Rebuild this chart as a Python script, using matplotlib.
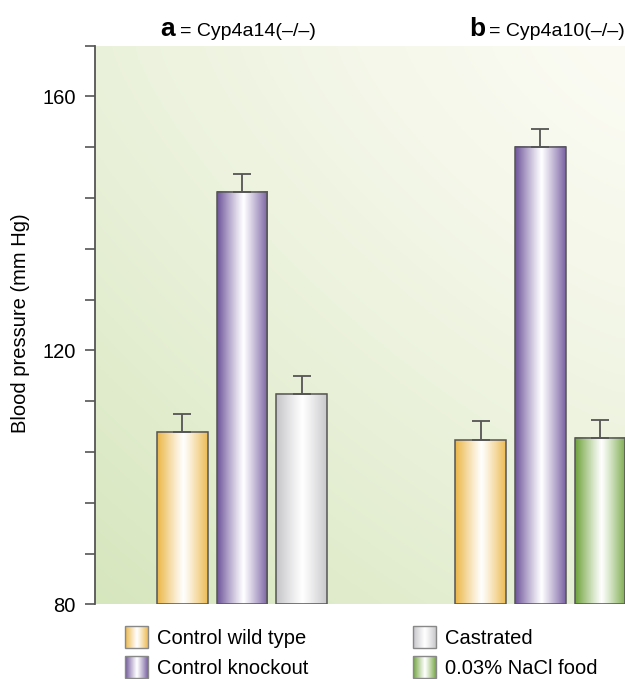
import numpy as np
import matplotlib
matplotlib.use("Agg")
import matplotlib.pyplot as plt
from matplotlib.patches import Rectangle
from matplotlib.colors import to_rgb

plt.rcParams['font.family'] = ['Liberation Sans', 'DejaVu Sans']

# ---- data ----
groups = ["a", "b"]
group_titles = ["Cyp4a14(\u2013/\u2013)", "Cyp4a10(\u2013/\u2013)"]
conditions_a = ["Control wild type", "Control knockout", "Castrated"]
conditions_b = ["Control wild type", "Control knockout", "0.03% NaCl food"]
values_a = [107.1, 144.9, 113.1]
errors_a = [2.9, 2.9, 2.9]
values_b = [105.8, 152.0, 106.2]
errors_b = [3.0, 2.9, 2.9]
legend_labels = ["Control wild type", "Control knockout", "Castrated", "0.03% NaCl food"]
yticks_major = [80, 120, 160]

edge_colors = {
    "Control wild type": "#ebb545",
    "Control knockout": "#6e549a",
    "Castrated": "#c4c4c8",
    "0.03% NaCl food": "#6ea23a",
}

W, H = 625, 679
fig = plt.figure(figsize=(W / 100, H / 100), dpi=100)
ax = fig.add_axes([95 / W, 1 - 604.3 / H, 530 / W, (604.3 - 45.5) / H])

# background gradient
ny, nx = 200, 200
xx, yy = np.meshgrid(np.linspace(0, 1, nx), np.linspace(0, 1, ny))
w = np.clip(0.45 * (1 - xx) ** 1.3 + 0.55 * yy ** 1.3, 0, 1)  # yy=1 bottom (origin upper)
green = np.array(to_rgb("#d6e6bd"))
cream = np.array(to_rgb("#fbfbf3"))
bg = cream[None, None, :] * (1 - w[..., None]) + green[None, None, :] * w[..., None]
ax.imshow(bg, extent=[0, 1, 0, 1], transform=ax.transAxes, aspect='auto', zorder=0, origin='upper')


def grad_row(color, n=128):
    c = np.array(to_rgb(color))
    t = np.linspace(0, 1, n)
    prof = np.abs(2 * (t - 0.52)) / 1.04
    prof = np.clip(prof, 0, 1) ** 1.1
    white = np.array([1.0, 1.0, 1.0])
    row = white[None, :] * (1 - prof[:, None]) + c[None, :] * prof[:, None]
    return row[None, :, :]


bar_width = 0.85
group_offsets = [0, 5]
ymin, ymax = 80, 168

for g, (conds, vals, errs) in enumerate([(conditions_a, values_a, errors_a),
                                         (conditions_b, values_b, errors_b)]):
    for i, (c, v, e) in enumerate(zip(conds, vals, errs)):
        x = group_offsets[g] + i
        x0, x1 = x - bar_width / 2, x + bar_width / 2
        ax.imshow(grad_row(edge_colors[c]), extent=[x0, x1, ymin, v], aspect='auto',
                  zorder=2, interpolation='bilinear')
        ax.add_patch(Rectangle((x0, ymin), bar_width, v - ymin, fill=False,
                               edgecolor='#555555', lw=1.1, zorder=3))
        ax.errorbar([x], [v], yerr=[[0], [e]], fmt='none', ecolor='#555555',
                    elinewidth=1.3, capsize=6.5, capthick=1.3, zorder=3)

ax.set_xlim(-1.467, 7.42)
ax.set_ylim(ymin, ymax)
ax.set_yticks(np.arange(80, 169, 8))
ax.set_yticklabels([str(t) if t in yticks_major else "" for t in np.arange(80, 169, 8)])
ax.tick_params(axis='y', length=7, width=1.2, color='#555555', pad=7, labelsize=14.5)
ax.set_xticks([])
for s in ['top', 'right', 'bottom']:
    ax.spines[s].set_visible(False)
ax.spines['left'].set_color('#555555')
ax.spines['left'].set_linewidth(1.3)
ax.spines['left'].set_bounds(ymin, ymax)

fig.text(21 / W, 1 - 323 / H, "Blood pressure (mm Hg)", rotation=90, ha='center',
         va='center', fontsize=14.5)

# titles
title_x = [160, 469]
for g in range(2):
    fig.text(title_x[g] / W, 1 - 36 / H, groups[g], fontsize=19, fontweight='bold',
             ha='left', va='baseline')
    fig.text((title_x[g] + 20) / W, 1 - 36 / H, "= " + group_titles[g], fontsize=14,
             ha='left', va='baseline')

# legend (overlay in pixel coordinates)
lax = fig.add_axes([0, 0, 1, 1])
lax.set_xlim(0, W)
lax.set_ylim(H, 0)
lax.axis('off')
leg_pos = [(125, 626), (125, 656), (413, 626), (413, 656)]
for lab, (lx, ly) in zip(legend_labels, leg_pos):
    lax.imshow(grad_row(edge_colors[lab]), extent=[lx, lx + 23, ly + 22, ly], aspect='auto',
               interpolation='bilinear', zorder=2)
    lax.add_patch(Rectangle((lx, ly), 23, 22, fill=False, edgecolor='#888888', lw=1.0, zorder=3))
    lax.text(lx + 32, ly + 12, lab, fontsize=14.5, ha='left', va='center')
lax.set_xlim(0, W)
lax.set_ylim(H, 0)

fig.savefig("out.png", dpi=100)
